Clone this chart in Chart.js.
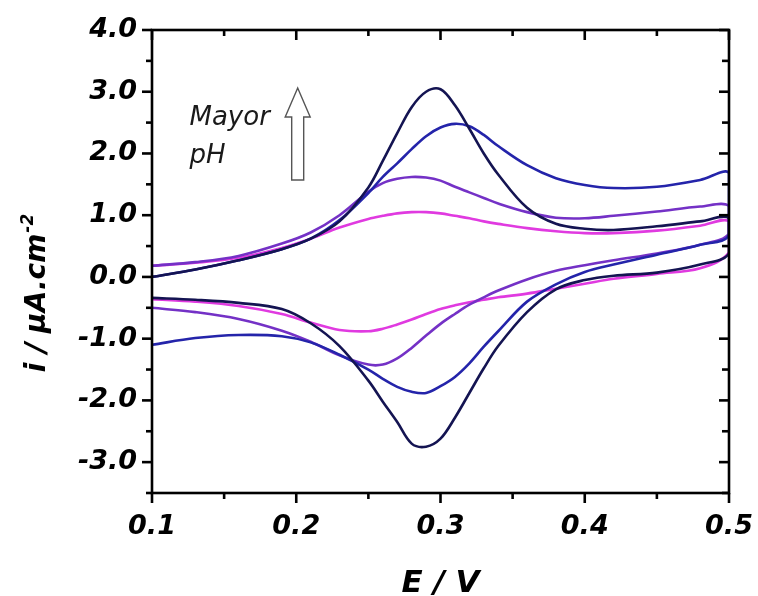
<!DOCTYPE html>
<html><head><meta charset="utf-8">
<script src="https://cdn.jsdelivr.net/npm/chart.js@4/dist/chart.umd.min.js"></script>
<style>html,body{margin:0;padding:0;background:#fff}#wrap{width:758px;height:596px}canvas{display:block}</style>
</head><body><div id="wrap"><canvas id="c" width="758" height="596"></canvas></div>
<script>
// Potential grid (V) shared by all scans
const potential = [0.10,0.13,0.16,0.19,0.21,0.23,0.25,0.26,0.27,0.28,0.29,0.30,0.31,0.32,0.33,0.34,0.36,0.38,0.40,0.42,0.45,0.48,0.50];

// Current density (µA.cm-2), anodic (forward) and cathodic (reverse) branches, listed by ascending potential
const navyFwd    = [0.00,0.12,0.27,0.45,0.62,0.90,1.45,1.88,2.33,2.75,3.00,3.04,2.78,2.40,2.00,1.66,1.12,0.86,0.78,0.76,0.82,0.90,0.95];
const navyRev    = [-0.34,-0.37,-0.42,-0.52,-0.75,-1.12,-1.68,-2.02,-2.35,-2.70,-2.75,-2.62,-2.28,-1.88,-1.48,-1.12,-0.57,-0.20,-0.05,0.02,0.07,0.20,0.38];
const blueFwd    = [0.00,0.12,0.27,0.45,0.62,0.92,1.36,1.62,1.84,2.07,2.28,2.42,2.48,2.44,2.30,2.12,1.81,1.60,1.49,1.44,1.46,1.57,1.68];
const blueRev    = [-1.10,-0.99,-0.94,-0.96,-1.06,-1.26,-1.50,-1.65,-1.78,-1.86,-1.88,-1.77,-1.62,-1.40,-1.13,-0.88,-0.40,-0.12,0.08,0.20,0.36,0.52,0.68];
const purpleFwd  = [0.18,0.24,0.34,0.54,0.72,1.00,1.38,1.52,1.59,1.62,1.61,1.56,1.46,1.37,1.28,1.19,1.05,0.96,0.95,0.99,1.06,1.14,1.15];
const purpleRev  = [-0.50,-0.57,-0.68,-0.87,-1.05,-1.27,-1.42,-1.42,-1.32,-1.15,-0.95,-0.76,-0.60,-0.45,-0.33,-0.22,-0.04,0.10,0.19,0.27,0.38,0.52,0.70];
const magentaFwd = [0.18,0.23,0.31,0.47,0.62,0.80,0.94,0.99,1.03,1.05,1.05,1.03,0.99,0.95,0.90,0.86,0.79,0.74,0.71,0.71,0.75,0.83,0.90];
const magentaRev = [-0.36,-0.40,-0.47,-0.60,-0.74,-0.86,-0.88,-0.84,-0.77,-0.69,-0.60,-0.52,-0.46,-0.41,-0.37,-0.33,-0.27,-0.19,-0.11,-0.03,0.05,0.14,0.40];

const seriesColors = ['#141452','#2424aa','#7431c6','#e03ae0'];

// Axis ticks
const xMajor = [0.1,0.2,0.3,0.4,0.5];
const xMinor = [0.15,0.25,0.35,0.45];
const yMajor = [-3,-2,-1,0,1,2,3,4];
const yMinor = [-3.5,-2.5,-1.5,-0.5,0.5,1.5,2.5,3.5];

// Annotation
const arrowE = 0.201, arrowTip = 3.06, arrowHeadBase = 2.59, arrowTail = 1.57;
const noteE = 0.126, noteLine1 = 2.46, noteLine2 = 1.845;

function loop(fwd, rev){
  const pts = potential.map((e,k)=>({x:e,y:fwd[k]}));
  for(let k=potential.length-1;k>=0;k--) pts.push({x:potential[k],y:rev[k]});
  return pts;
}
const datasets = [
  {data:loop(navyFwd,navyRev)},
  {data:loop(blueFwd,blueRev)},
  {data:loop(purpleFwd,purpleRev)},
  {data:loop(magentaFwd,magentaRev)}
].map((d,i)=>Object.assign(d,{showLine:true,borderColor:seriesColors[i],borderWidth:2.6,pointRadius:0,tension:0.35,fill:false}));

const FONT = '"DejaVu Sans", "Liberation Sans", Arial, sans-serif';

const decor = {
  id:'decor',
  afterDraw(chart){
    const {ctx, chartArea:a, scales:{x,y}} = chart;
    ctx.save();
    ctx.strokeStyle='#000'; ctx.lineWidth=2.6; ctx.lineCap='butt';
    ctx.strokeRect(a.left,a.top,a.right-a.left,a.bottom-a.top);
    const seg=(x1,y1,x2,y2)=>{ctx.beginPath();ctx.moveTo(x1,y1);ctx.lineTo(x2,y2);ctx.stroke();};
    xMajor.forEach(v=>{const p=x.getPixelForValue(v);seg(p,a.bottom,p,a.bottom+10);seg(p,a.top,p,a.top+10);});
    xMinor.forEach(v=>{const p=x.getPixelForValue(v);seg(p,a.bottom,p,a.bottom+6);seg(p,a.top,p,a.top+6);});
    yMajor.forEach(v=>{const p=y.getPixelForValue(v);seg(a.left-10,p,a.left,p);seg(a.right-10,p,a.right,p);});
    yMinor.forEach(v=>{const p=y.getPixelForValue(v);seg(a.left-6,p,a.left,p);seg(a.right-7,p,a.right,p);});

    // hollow arrow
    const ax=x.getPixelForValue(arrowE), tip=y.getPixelForValue(arrowTip), hb=y.getPixelForValue(arrowHeadBase), tail=y.getPixelForValue(arrowTail);
    ctx.beginPath();
    ctx.moveTo(ax,tip); ctx.lineTo(ax+12.5,hb); ctx.lineTo(ax+6,hb); ctx.lineTo(ax+6,tail);
    ctx.lineTo(ax-6,tail); ctx.lineTo(ax-6,hb); ctx.lineTo(ax-12.5,hb); ctx.closePath();
    ctx.fillStyle='#fff'; ctx.fill(); ctx.strokeStyle='#555'; ctx.lineWidth=1.4; ctx.stroke();

    // note text
    ctx.fillStyle='#1a1a1a'; ctx.font='italic 26px '+FONT; ctx.textAlign='left'; ctx.textBaseline='alphabetic';
    const nx=x.getPixelForValue(noteE);
    ctx.fillText('Mayor',nx,y.getPixelForValue(noteLine1));
    ctx.fillText('pH',nx,y.getPixelForValue(noteLine2));

    // y-axis title with superscript
    const t1='i / μA.cm', t2='-2';
    ctx.fillStyle='#000';
    ctx.font='italic bold 28px '+FONT; const w1=ctx.measureText(t1).width;
    ctx.font='italic bold 17px '+FONT; const w2=ctx.measureText(t2).width;
    const cy=(a.top+a.bottom)/2+32;
    ctx.translate(45, cy+(w1+w2)/2); ctx.rotate(-Math.PI/2);
    ctx.font='italic bold 28px '+FONT; ctx.fillText(t1,0,0);
    ctx.font='italic bold 17px '+FONT; ctx.fillText(t2,w1+1,-12);
    ctx.restore();
  }
};

const tickFont = {family:FONT, size:27, weight:'bold', style:'italic'};

new Chart(document.getElementById('c'), {
  type:'scatter',
  data:{datasets},
  options:{
    responsive:false, animation:false, devicePixelRatio:1,
    layout:{padding:{top:30,right:29,left:0,bottom:0}},
    plugins:{legend:{display:false},tooltip:{enabled:false}},
    scales:{
      x:{type:'linear',position:'bottom',min:0.1,max:0.5,
        afterBuildTicks:s=>{s.ticks=xMajor.map(v=>({value:v}));},
        afterFit:s=>{s.height=103;s.paddingLeft=0;s.paddingRight=0;},
        grid:{display:false,drawTicks:false}, border:{display:false},
        ticks:{padding:18,color:'#000',font:tickFont,maxRotation:0,autoSkip:false,callback:v=>Number(v).toFixed(1)},
        title:{display:true,text:'E / V',color:'#000',padding:0,font:{family:FONT,size:31,weight:'bold',style:'italic',lineHeight:0.8}}
      },
      y:{type:'linear',position:'left',min:-3.5,max:4.0,
        afterBuildTicks:s=>{s.ticks=yMajor.map(v=>({value:v}));},
        afterFit:s=>{s.width=152;s.paddingTop=0;s.paddingBottom=0;},
        grid:{display:false,drawTicks:false}, border:{display:false},
        ticks:{padding:15,color:'#000',font:tickFont,autoSkip:false,callback:v=>Number(v).toFixed(1)}
      }
    }
  },
  plugins:[decor]
});
</script></body></html>
